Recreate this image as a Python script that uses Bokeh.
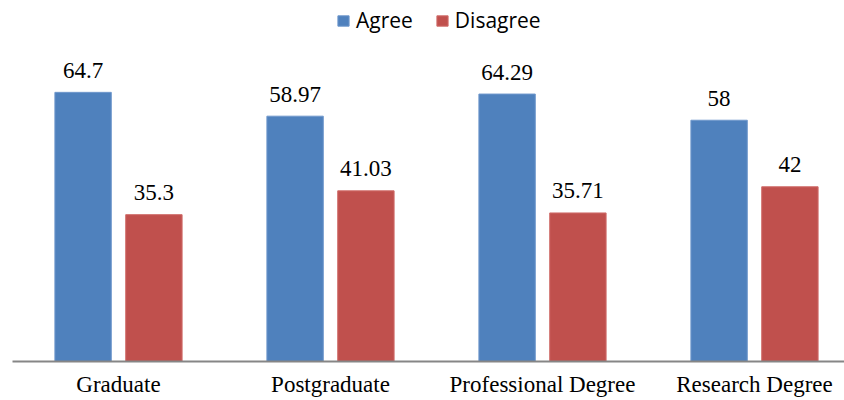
from bokeh.plotting import figure
from bokeh.models import (ColumnDataSource, Range1d, FixedTicker, Legend, LegendItem)
from bokeh.transform import dodge
from bokeh.core.properties import value
from bokeh.embed import file_html
from bokeh.resources import INLINE

# Survey responses by qualification level (percent)
categories = ["Graduate", "Postgraduate", "Professional Degree", "Research Degree"]
agree = [64.7, 58.97, 64.29, 58]
disagree = [35.3, 41.03, 35.71, 42]
agree_labels = ["64.7", "58.97", "64.29", "58"]
disagree_labels = ["35.3", "41.03", "35.71", "42"]

BLUE = "#4F81BD"
RED = "#C0504D"

src = ColumnDataSource(dict(
    x=list(range(len(categories))),
    agree=agree,
    disagree=disagree,
    agree_lbl=agree_labels,
    disagree_lbl=disagree_labels,
))

p = figure(
    width=844, height=400,
    output_backend="svg", toolbar_location=None,
    x_range=Range1d(-0.5, -0.5 + 832 / 212),
    y_range=Range1d(0, 361 / 4.16),
    min_border_left=12, min_border_right=0,
    min_border_top=0, min_border_bottom=39,
)
p.outline_line_color = None
p.background_fill_color = "white"
p.border_fill_color = "white"
p.xgrid.visible = False
p.ygrid.visible = False
p.yaxis.visible = False

off = 0.167
bw = 0.266
r_agree = p.vbar(x=dodge("x", -off), top="agree", width=bw, source=src,
                 fill_color=BLUE, line_color="#6f98cc", line_width=1)
r_dis = p.vbar(x=dodge("x", off), top="disagree", width=bw, source=src,
               fill_color=RED, line_color="#d06e6b", line_width=1)

lbl_kw = dict(text_font=value("Liberation Serif"), text_font_size="23px",
              text_color="#000000", text_align="center",
              text_baseline="alphabetic", y_offset=-22)
p.text(x=dodge("x", -off), y="agree", text="agree_lbl", source=src, **lbl_kw)
p.text(x=dodge("x", off), y="disagree", text="disagree_lbl", source=src, **lbl_kw)

ax = p.xaxis[0]
ax.ticker = FixedTicker(ticks=list(range(len(categories))))
ax.major_label_overrides = {i: c for i, c in enumerate(categories)}
ax.major_tick_line_color = None
ax.minor_tick_line_color = None
ax.major_tick_out = 0
ax.major_tick_in = 0
ax.axis_line_color = "#868686"
ax.axis_line_width = 2
ax.major_label_standoff = 10
ax.major_label_text_font = "Liberation Serif"
ax.major_label_text_font_size = "23px"
ax.major_label_text_color = "#000000"

legend = Legend(
    items=[LegendItem(label="Agree", renderers=[r_agree]),
           LegendItem(label="Disagree", renderers=[r_dis])],
    orientation="horizontal",
    location=(324, 327),
    padding=0, margin=0, spacing=22,
    glyph_width=14, glyph_height=13, label_height=13,
    label_text_font="Open Sans", label_text_font_size="21px",
    label_standoff=6,
    label_text_color="#000000",
    background_fill_alpha=0, border_line_alpha=0,
)
p.add_layout(legend, "center")

open("out.html", "w").write(file_html(p, INLINE))
